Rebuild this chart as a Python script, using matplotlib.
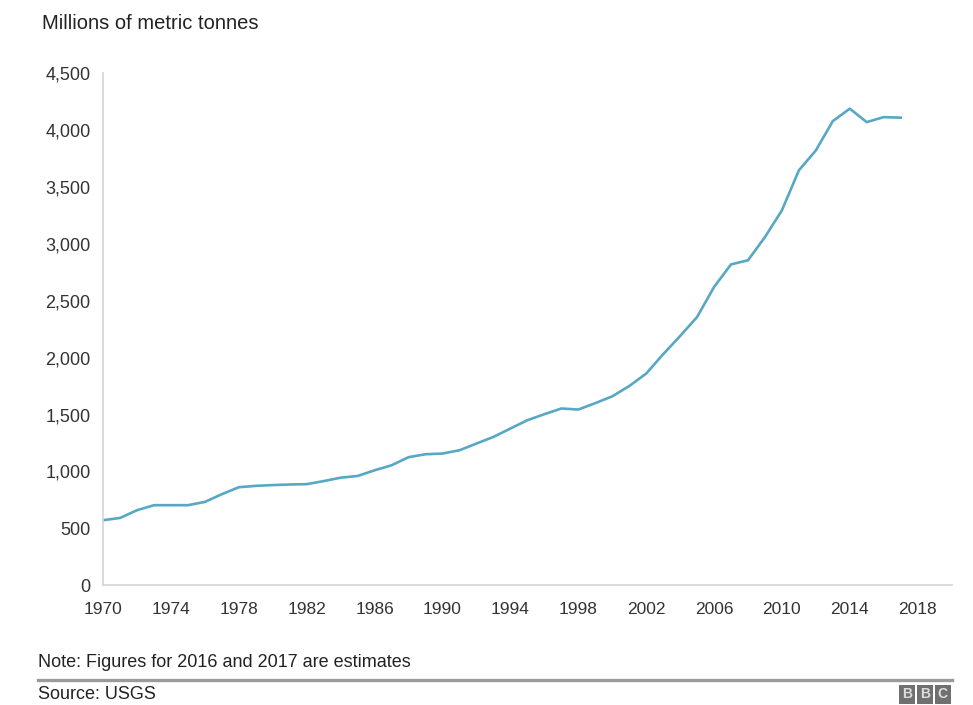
import matplotlib.pyplot as plt
from matplotlib.ticker import FuncFormatter

years = list(range(1970, 2018))
tonnes = [571, 591, 659, 703, 703, 703, 732, 800, 861, 873,
          880, 885, 888, 915, 945, 960, 1010, 1054, 1125, 1151,
          1157, 1186, 1245, 1303, 1377, 1450, 1503, 1553, 1544, 1600,
          1660, 1750, 1860, 2030, 2190, 2357, 2621, 2820, 2856, 3060,
          3295, 3647, 3822, 4080, 4189, 4071, 4115, 4110]

x_ticks = list(range(1970, 2019, 4))
y_ticks = list(range(0, 4501, 500))

plt.rcParams['font.family'] = ['Liberation Sans', 'DejaVu Sans']

fig = plt.figure(figsize=(9.73, 7.05), dpi=100)
ax = fig.add_axes([0.106, 0.170, 0.872, 0.726])

ax.plot(years, tonnes, color='#57a8c3', linewidth=1.9, solid_joinstyle='round')

ax.set_xlim(1970, 2020)
ax.set_ylim(0, 4500)
ax.set_xticks(x_ticks)
ax.set_yticks(y_ticks)
ax.yaxis.set_major_formatter(FuncFormatter(lambda v, p: f"{int(v):,}"))
ax.tick_params(axis='both', length=0, colors='#333333')
ax.tick_params(axis='x', pad=12, labelsize=12.5)
ax.tick_params(axis='y', pad=9, labelsize=13)

for s in ['top', 'right']:
    ax.spines[s].set_visible(False)
for s in ['left', 'bottom']:
    ax.spines[s].set_color('#d4d4d4')
    ax.spines[s].set_linewidth(1.2)

fig.text(0.043, 0.967, "Millions of metric tonnes", fontsize=14.5,
         color='#222222', va='center', ha='left')
fig.text(0.039, 0.060, "Note: Figures for 2016 and 2017 are estimates", fontsize=13,
         color='#222222', va='center', ha='left')
fig.add_artist(plt.Line2D([0.039, 0.978], [0.036, 0.036], transform=fig.transFigure,
                          color='#9a9a9a', linewidth=2.4))
fig.text(0.039, 0.015, "Source: USGS", fontsize=13,
         color='#222222', va='center', ha='left')

for i, letter in enumerate("BBC"):
    fig.text(0.932 + i * 0.0185, 0.015, letter, fontsize=10, fontweight='bold',
             color='#dddddd', va='center', ha='center',
             bbox=dict(boxstyle='square,pad=0.2', facecolor='#707070', edgecolor='none'))

fig.savefig("out.png", dpi=100, facecolor='white')
